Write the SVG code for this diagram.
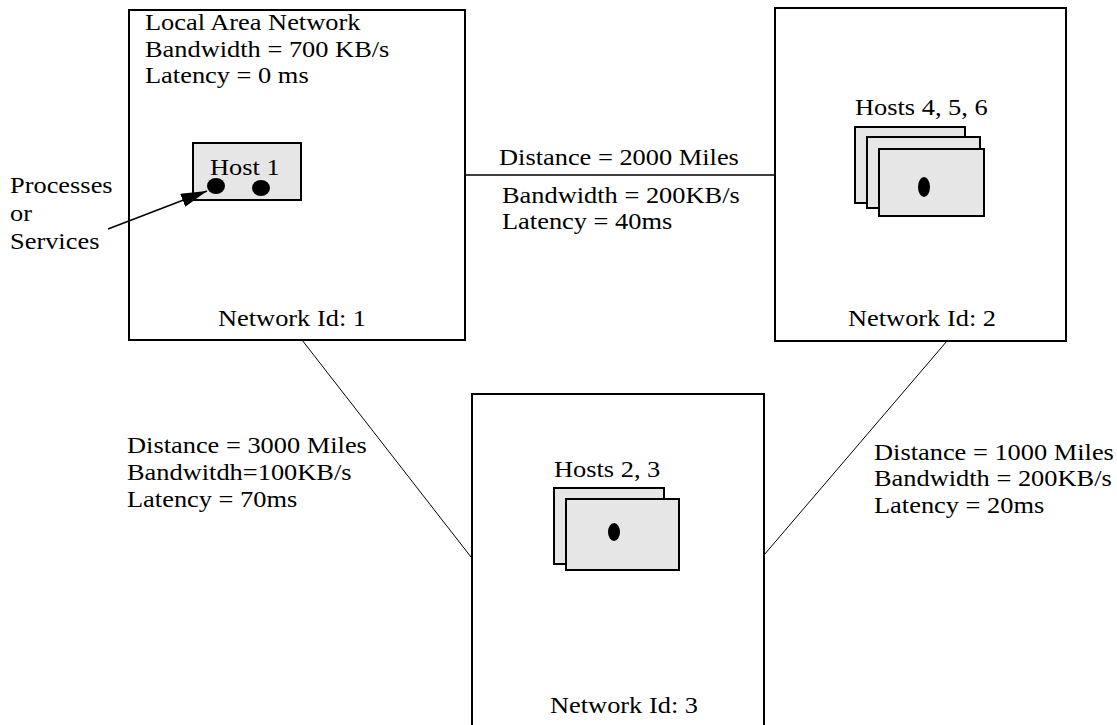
<svg xmlns="http://www.w3.org/2000/svg" width="1117" height="725" viewBox="0 0 1117 725">
  <style>
    .net { fill: #ffffff; stroke: #000000; stroke-width: 2; }
    .host { fill: #e6e6e6; stroke: #000000; stroke-width: 2; }
    .proc { fill: #000000; }
    .link { stroke: #000000; stroke-width: 1; fill: none; }
    text { font-family: 'Liberation Serif', 'Times New Roman', serif; font-size: 24px; fill: #000000; }
  </style>
  <defs>
    <marker id="bigArrow" viewBox="0 0 26 14" refX="26" refY="7" markerWidth="26" markerHeight="14" markerUnits="userSpaceOnUse" orient="auto">
      <path d="M0,0 L26,7 L0,14 z" fill="#000000"/>
    </marker>
  </defs>
  <rect width="1117" height="725" fill="#ffffff"/>

  <!-- wide-area links between networks -->
  <g id="connectors">
    <line class="link" x1="465" y1="175" x2="775" y2="175" style="stroke-width:1.5"/>
    <line class="link" x1="302" y1="340" x2="471" y2="557"/>
    <line class="link" x1="947" y1="341" x2="764" y2="555"/>
    <text transform="translate(499,165) scale(1.1,1)">Distance = 2000 Miles</text>
    <text transform="translate(502,203) scale(1.1,1)"><tspan x="0" y="0">Bandwidth = 200KB/s</tspan><tspan x="0" y="26">Latency = 40ms</tspan></text>
    <text transform="translate(127,453) scale(1.1,1)"><tspan x="0" y="0">Distance = 3000 Miles</tspan><tspan x="0" y="27">Bandwitdh=100KB/s</tspan><tspan x="0" y="54">Latency = 70ms</tspan></text>
    <text transform="translate(874,460) scale(1.1,1)"><tspan x="0" y="0">Distance = 1000 Miles</tspan><tspan x="0" y="26.5">Bandwidth = 200KB/s</tspan><tspan x="0" y="53">Latency = 20ms</tspan></text>
  </g>

  <!-- network 1: local area network with host 1 -->
  <g id="network1">
    <rect class="net" x="129" y="10" width="336" height="330"/>
    <text transform="translate(145,30) scale(1.1,1)"><tspan x="0" y="0">Local Area Network</tspan><tspan x="0" y="27">Bandwidth = 700 KB/s</tspan><tspan x="0" y="53">Latency = 0 ms</tspan></text>
    <text text-anchor="middle" transform="translate(292,326) scale(1.1,1)">Network Id: 1</text>
  </g>
  <g id="host1">
    <rect class="host" x="193" y="143" width="108" height="57"/>
    <text transform="translate(210,175) scale(1.1,1)">Host 1</text>
    <ellipse class="proc" cx="216" cy="186" rx="9" ry="8"/>
    <ellipse class="proc" cx="261" cy="188" rx="9" ry="8"/>
  </g>
  <g id="processes-note">
    <text transform="translate(10,193) scale(1.1,1)"><tspan x="0" y="0">Processes</tspan><tspan x="0" y="28">or</tspan><tspan x="0" y="56">Services</tspan></text>
    <line x1="108" y1="229" x2="207" y2="191" stroke="#000000" stroke-width="1.5" marker-end="url(#bigArrow)"/>
  </g>

  <!-- network 2 with hosts 4, 5, 6 -->
  <g id="network2">
    <rect class="net" x="775" y="8" width="291" height="333"/>
    <text text-anchor="middle" transform="translate(922,326) scale(1.1,1)">Network Id: 2</text>
  </g>
  <g id="hosts456">
    <text transform="translate(855,115) scale(1.1,1)">Hosts 4, 5, 6</text>
    <rect class="host" x="855" y="127" width="110" height="76"/>
    <rect class="host" x="867" y="137" width="113" height="71"/>
    <rect class="host" x="879" y="149" width="105" height="67"/>
    <ellipse class="proc" cx="924" cy="187" rx="6" ry="10"/>
  </g>

  <!-- network 3 with hosts 2, 3 -->
  <g id="network3">
    <rect class="net" x="472" y="394" width="292" height="340"/>
    <text text-anchor="middle" transform="translate(624,713) scale(1.1,1)">Network Id: 3</text>
  </g>
  <g id="hosts23">
    <text transform="translate(554,477) scale(1.1,1)">Hosts 2, 3</text>
    <rect class="host" x="554" y="488" width="110" height="76"/>
    <rect class="host" x="566" y="499" width="113" height="71"/>
    <ellipse class="proc" cx="614" cy="532" rx="6" ry="9"/>
  </g>
</svg>
